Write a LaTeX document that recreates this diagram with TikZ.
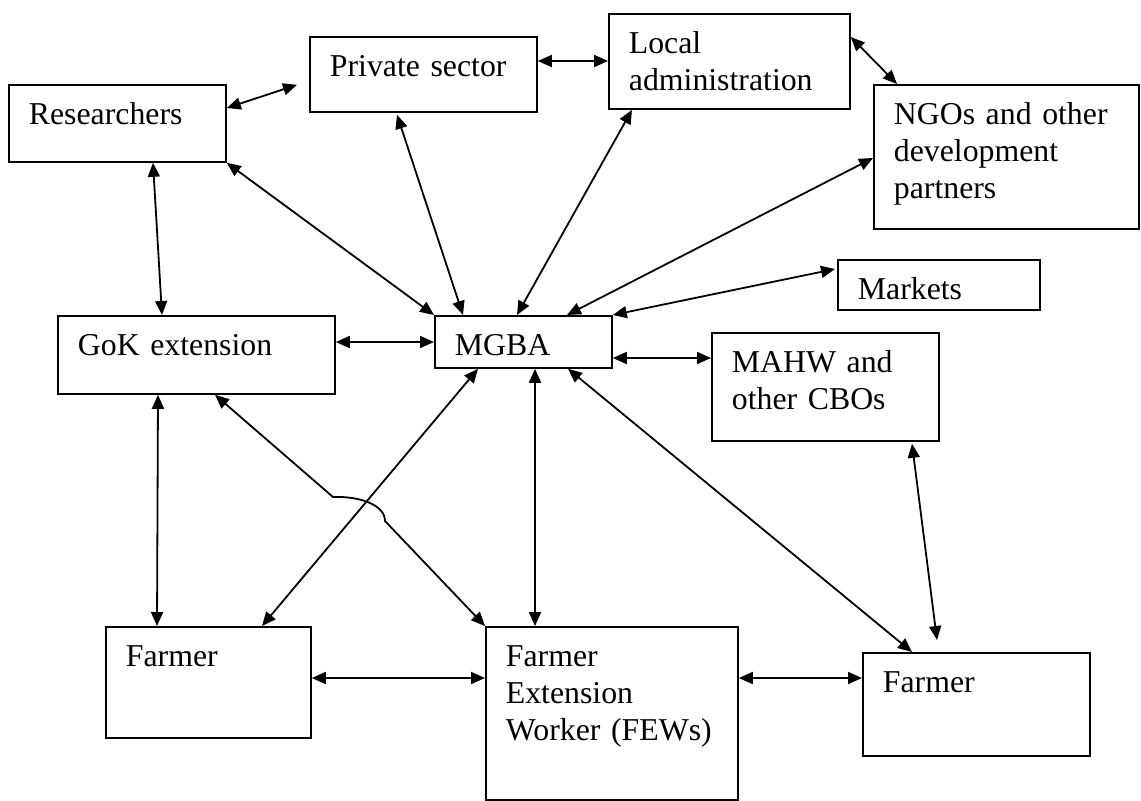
\documentclass[tikz,border=0pt]{standalone}
\usepackage{fontspec}
\setmainfont{Liberation Serif}
\usetikzlibrary{arrows.meta}
\newlength{\pu}\setlength{\pu}{0.5pt}

\begin{document}
\begin{tikzpicture}[x=0.5pt, y=-0.5pt,
    box/.style={draw, line width=0.9pt, anchor=north west, inner xsep=20\pu, inner ysep=0pt, text height=40\pu, align=left, font=\fontsize{15.9}{18.5}\selectfont},
    arrow/.style={{Triangle[length=7pt, width=6pt]}-{Triangle[length=7pt, width=6pt]}, line width=0.9pt}]

  \useasboundingbox (0,0) rectangle (1141,800);

  \node[box, text width=177\pu, text depth=37\pu] (res) at (8,84) {Researchers};
  \node[box, text width=187\pu, text depth=35\pu] (priv) at (309,36) {Private sector};
  \node[box, text width=201\pu, text depth=55\pu] (loc) at (608,13) {Local\\administration};
  \node[box, text width=225\pu, text depth=104\pu] (ngo) at (873,84) {NGOs and other\\development\\partners};
  \node[box, text width=162\pu, text depth=10\pu] (mkt) at (837,259) {Markets};
  \node[box, text width=137\pu, text depth=12\pu] (mgba) at (434,315) {MGBA};
  \node[box, text width=237\pu, text depth=38\pu] (gok) at (57,315) {GoK extension};
  \node[box, text width=187\pu, text depth=68\pu] (mahw) at (711,332) {MAHW and\\other CBOs};
  \node[box, text width=165\pu, text depth=71\pu] (farmL) at (105,626) {Farmer};
  \node[box, text width=212\pu, text depth=133\pu] (few) at (485,626) {Farmer\\Extension\\Worker (FEWs)};
  \node[box, text width=187\pu, text depth=63\pu] (farmR) at (862,652) {Farmer};

  \coordinate (hopa) at (333,497);
  \coordinate (hopb) at (385,521);

  \draw[arrow] ([yshift=-24\pu]res.north east) -- ([xshift=-12\pu,yshift=28\pu]priv.south west);
  \draw[arrow] ([yshift=-25\pu]priv.north east) -- ([yshift=-48\pu]loc.north west);
  \draw[arrow] ([yshift=-24\pu]loc.north east) -- ([xshift=24\pu]ngo.north west);
  \draw[arrow] ([xshift=145\pu]res.south west) -- ([xshift=105\pu]gok.north west);
  \draw[arrow] (res.south east) -- (mgba.north west);
  \draw[arrow] ([xshift=88\pu,yshift=-2\pu]priv.south west) -- ([xshift=29\pu]mgba.north west);
  \draw[arrow] ([xshift=24\pu]loc.south west) -- ([xshift=83\pu]mgba.north west);
  \draw[arrow] ([yshift=-74\pu]ngo.north west) -- ([xshift=133\pu]mgba.north west);
  \draw[arrow] ([xshift=-2\pu,yshift=-10\pu]mkt.north west) -- (mgba.north east);
  \draw[arrow] ([yshift=-27\pu]gok.north east) -- ([yshift=-27\pu]mgba.north west);
  \draw[arrow] ([yshift=-43\pu]mgba.north east) -- ([yshift=-26\pu]mahw.north west);
  \draw[arrow] ([xshift=101\pu]gok.south west) -- ([xshift=52\pu]farmL.north west);
  \draw[arrow] ([xshift=158\pu]gok.south west) -- (hopa) .. controls (360,496) and (385,505) .. (hopb) -- (few.north west);
  \draw[arrow] ([xshift=44\pu]mgba.south west) -- ([xshift=157\pu]farmL.north west);
  \draw[arrow] ([xshift=101\pu]mgba.south west) -- ([xshift=50\pu]few.north west);
  \draw[arrow] ([xshift=134\pu]mgba.south west) -- ([xshift=50\pu]farmR.north west);
  \draw[arrow] ([xshift=201\pu,yshift=-2\pu]mahw.south west) -- ([xshift=75\pu,yshift=12\pu]farmR.north west);
  \draw[arrow] ([yshift=-52\pu]farmL.north east) -- ([yshift=-52\pu]few.north west);
  \draw[arrow] ([yshift=-52\pu]few.north east) -- ([yshift=-26\pu]farmR.north west);
\end{tikzpicture}
\end{document}
